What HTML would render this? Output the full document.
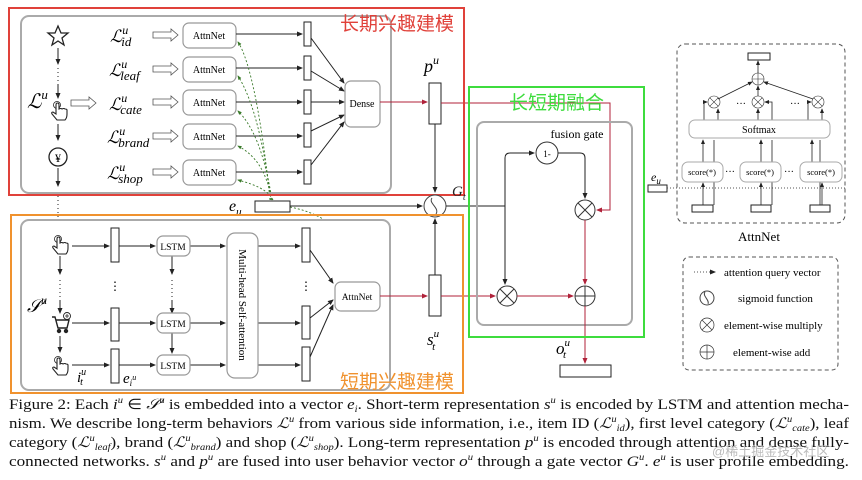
<!DOCTYPE html>
<html><head><meta charset="utf-8"><style>
html,body{margin:0;padding:0;background:#fff;width:862px;height:480px;overflow:hidden}
svg{display:block}
text{font-family:"Liberation Serif",serif}
.cn{font-family:"Liberation Sans","Noto Sans CJK SC",sans-serif}
.it{font-style:italic}
</style></head><body>
<svg width="862" height="480" viewBox="0 0 862 480" xmlns="http://www.w3.org/2000/svg">
<defs>
<marker id="a" markerWidth="6" markerHeight="6" refX="5" refY="3" orient="auto"><path d="M0,0.5 L6,3 L0,5.5z" fill="#222"/></marker>
<marker id="r" markerWidth="6" markerHeight="6" refX="5" refY="3" orient="auto"><path d="M0,0.5 L6,3 L0,5.5z" fill="#b0223a"/></marker>
<marker id="g" markerWidth="5" markerHeight="5" refX="4" refY="2.5" orient="auto"><path d="M0,0.5 L5,2.5 L0,4.5z" fill="#3a7a2a"/></marker>
<g id="mul"><circle r="10" fill="#fff" stroke="#333"/><path d="M-7,-7L7,7M7,-7L-7,7" stroke="#333"/></g>
<g id="add"><circle r="10" fill="#fff" stroke="#333"/><path d="M-10,0H10M0,-10V10" stroke="#333"/></g>
<g id="hol"><path d="M0,-3H18V-6L25,0L18,6V3H0Z" fill="#fff" stroke="#555" stroke-width="0.8"/></g>
<g id="hand" fill="#fff" stroke="#222" stroke-width="1.1"><circle cx="-2" cy="-6" r="3.5" fill="none" stroke-width="0.8"/><path d="M-3,-6V3L-6,1Q-8,1 -7,3L-2,9H6Q8,7 8,3V-1Q8,-2 6,-2Q5,-3 3,-2Q2,-3 0,-2V-6Q0,-8 -1.5,-8Q-3,-8 -3,-6Z"/></g>
<g id="cart" fill="none" stroke="#222" stroke-width="1.4"><path d="M-9,-6H-6L-3,5H6L8,-3H-5"/><circle cx="-2" cy="8" r="1.5" fill="#222"/><circle cx="5" cy="8" r="1.5" fill="#222"/><circle cx="6" cy="-7" r="3.5" stroke-width="0.9"/><path d="M4,-7H8M6,-9V-5" stroke-width="0.8"/></g>
</defs>

<rect x="21" y="16" width="370" height="177" rx="8" fill="#fff" stroke="#aaa" stroke-width="2"/>
<path d="M58,26 L61,33 L68,33 L62,38 L64,45 L58,41 L52,45 L54,38 L48,33 L55,33Z" fill="#fff" stroke="#222" stroke-width="1.3"/>
<path d="M58,48V64" stroke="#222" marker-end="url(#a)"/>
<path d="M58,68V84" stroke="#222" stroke-dasharray="1,3"/>
<path d="M58,84V98" stroke="#222" marker-end="url(#a)"/>
<use href="#hand" x="59" y="111"/>
<path d="M58,124V140" stroke="#222" marker-end="url(#a)"/>
<circle cx="58" cy="157" r="9" fill="#fff" stroke="#222" stroke-width="1.3"/><text x="58" y="162" font-size="12" text-anchor="middle">¥</text>
<path d="M58,168V186" stroke="#222" marker-end="url(#a)"/>
<text x="27" y="108" font-size="20" class="it">ℒ<tspan font-size="13" dy="-9">u</tspan></text>
<use href="#hol" x="71" y="103"/>
<g font-size="17" class="it">
<text x="110" y="42">ℒ<tspan font-size="12" dy="-8">u</tspan><tspan font-size="13" dy="12" dx="-7">id</tspan></text>
<text x="109" y="76">ℒ<tspan font-size="12" dy="-8">u</tspan><tspan font-size="13" dy="12" dx="-7">leaf</tspan></text>
<text x="109" y="110">ℒ<tspan font-size="12" dy="-8">u</tspan><tspan font-size="13" dy="12" dx="-7">cate</tspan></text>
<text x="107" y="143">ℒ<tspan font-size="12" dy="-8">u</tspan><tspan font-size="13" dy="12" dx="-7">brand</tspan></text>
<text x="107" y="179">ℒ<tspan font-size="12" dy="-8">u</tspan><tspan font-size="13" dy="12" dx="-7">shop</tspan></text>
</g>
<g>
<use href="#hol" x="153" y="35"/><use href="#hol" x="153" y="69"/><use href="#hol" x="153" y="102"/><use href="#hol" x="153" y="136"/><use href="#hol" x="153" y="172"/>
</g>
<g fill="#fff" stroke="#999" stroke-width="1.2">
<rect x="183" y="23" width="53" height="25" rx="6"/><rect x="183" y="57" width="53" height="25" rx="6"/><rect x="183" y="90" width="53" height="25" rx="6"/><rect x="183" y="124" width="53" height="25" rx="6"/><rect x="183" y="160" width="53" height="25" rx="6"/>
</g>
<g font-size="10" text-anchor="middle"><text x="209" y="39">AttnNet</text><text x="209" y="73">AttnNet</text><text x="209" y="106">AttnNet</text><text x="209" y="140">AttnNet</text><text x="209" y="176">AttnNet</text></g>
<g stroke="#222" fill="none">
<path d="M236,34H302" marker-end="url(#a)"/><path d="M236,68H302" marker-end="url(#a)"/><path d="M236,102H302" marker-end="url(#a)"/><path d="M236,136H302" marker-end="url(#a)"/><path d="M236,172H302" marker-end="url(#a)"/>
</g>
<g fill="#fff" stroke="#222"><rect x="304" y="22" width="7" height="24"/><rect x="304" y="56" width="7" height="24"/><rect x="304" y="90" width="7" height="24"/><rect x="304" y="123" width="7" height="24"/><rect x="304" y="160" width="7" height="24"/></g>
<g stroke="#222" fill="none">
<path d="M311,38L344,83" marker-end="url(#a)"/><path d="M311,71L344,91" marker-end="url(#a)"/><path d="M311,102H344" marker-end="url(#a)"/><path d="M311,131L344,115" marker-end="url(#a)"/><path d="M311,165L344,122" marker-end="url(#a)"/>
</g>
<rect x="345" y="81" width="35" height="46" rx="6" fill="#fff" stroke="#999" stroke-width="1.2"/>
<text x="362" y="107" font-size="10" text-anchor="middle">Dense</text>
<g stroke="#3a7a2a" fill="none" stroke-dasharray="2,2" stroke-width="0.9">
<path d="M270,200 C262,120 250,60 238,42" marker-end="url(#g)"/>
<path d="M271,200 C262,130 250,95 238,76" marker-end="url(#g)"/>
<path d="M272,200 C264,150 252,125 238,111" marker-end="url(#g)"/>
<path d="M272,200 C266,170 255,155 238,146" marker-end="url(#g)"/>
<path d="M273,200 C268,190 256,185 238,180" marker-end="url(#g)"/>
<path d="M290,207 C330,215 350,235 358,280" marker-end="url(#g)"/>
</g>
<path d="M380,102H427" stroke="#b0223a" marker-end="url(#r)"/>
<rect x="429" y="83" width="12" height="41" fill="#fff" stroke="#222"/>
<text x="424" y="72" font-size="18" class="it">p<tspan font-size="12" dy="-8">u</tspan></text>
<path d="M435,124V192" stroke="#222" marker-end="url(#a)"/>
<path d="M441,103H610V208" stroke="#b0223a" fill="none"/>
<path d="M610,208V210H597" stroke="#b0223a" fill="none" marker-end="url(#r)"/>

<rect x="9" y="8" width="455" height="187" fill="none" stroke="#e0413a" stroke-width="2"/>
<text x="340" y="30" font-size="19" fill="#e0413a" class="cn">长期兴趣建模</text>

<text x="229" y="211" font-size="16" class="it">e<tspan font-size="11" dy="4">u</tspan></text>
<rect x="255" y="201" width="35" height="11" fill="#fff" stroke="#222"/>
<path d="M290,206H422" stroke="#222" marker-end="url(#a)"/>
<circle cx="435" cy="206" r="11" fill="#fff" stroke="#444"/>
<path d="M432,198 C428,203 440,208 436,214" stroke="#444" fill="none"/>
<text x="452" y="196" font-size="15" class="it" fill="#222">G<tspan font-size="10" dy="4">t</tspan></text>
<path d="M446,206H505" stroke="#222"/>

<rect x="21" y="220" width="369" height="170" rx="8" fill="#fff" stroke="#aaa" stroke-width="2"/>
<path d="M58,196V218" stroke="#222" stroke-dasharray="1,3"/>
<use href="#hand" x="60" y="245"/><use href="#cart" x="61" y="323"/><use href="#hand" x="60" y="366"/>
<path d="M60,256V274" stroke="#222" marker-end="url(#a)"/><path d="M60,280V300" stroke="#222" stroke-dasharray="1,3"/><path d="M60,300V313" stroke="#222" marker-end="url(#a)"/><path d="M60,336V352" stroke="#222" marker-end="url(#a)"/>
<text x="27" y="312" font-size="18" class="it">𝒮<tspan font-size="12" dy="-8">u</tspan></text>
<text x="77" y="382" font-size="15" class="it">i<tspan font-size="10" dy="-7">u</tspan><tspan font-size="10" dy="10" dx="-6">t</tspan></text>
<text x="123" y="383" font-size="15" class="it">e<tspan font-size="9" dy="3">i</tspan><tspan font-size="8" dy="-6">u</tspan></text>
<g stroke="#222" fill="none">
<path d="M72,246H109" marker-end="url(#a)"/><path d="M72,323H109" marker-end="url(#a)"/><path d="M72,365H109" marker-end="url(#a)"/>
<path d="M119,246H155" marker-end="url(#a)"/><path d="M119,323H155" marker-end="url(#a)"/><path d="M119,365H155" marker-end="url(#a)"/>
<path d="M190,246H225" marker-end="url(#a)"/><path d="M190,323H225" marker-end="url(#a)"/><path d="M190,365H225" marker-end="url(#a)"/>
<path d="M258,246H300" marker-end="url(#a)"/><path d="M258,323H300" marker-end="url(#a)"/><path d="M258,365H300" marker-end="url(#a)"/>
<path d="M172,256V274" marker-end="url(#a)"/><path d="M172,280V300" stroke-dasharray="1,3"/><path d="M172,300V313" marker-end="url(#a)"/><path d="M172,333V353" marker-end="url(#a)"/>
<path d="M310,250L333,283" marker-end="url(#a)"/><path d="M310,318L333,300" marker-end="url(#a)"/><path d="M310,357L333,305" marker-end="url(#a)"/>
</g>
<g font-size="12" text-anchor="middle"><text x="115" y="290">⋮</text><text x="306" y="290">⋮</text></g>
<g fill="#fff" stroke="#222"><rect x="111" y="228" width="8" height="34"/><rect x="111" y="308" width="8" height="33"/><rect x="111" y="349" width="8" height="34"/>
<rect x="302" y="228" width="8" height="34"/><rect x="302" y="306" width="8" height="33"/><rect x="302" y="347" width="8" height="34"/></g>
<g fill="#fff" stroke="#999" stroke-width="1.2"><rect x="157" y="236" width="33" height="20" rx="6"/><rect x="157" y="313" width="33" height="20" rx="6"/><rect x="157" y="355" width="33" height="20" rx="6"/>
<rect x="227" y="233" width="31" height="145" rx="8"/><rect x="335" y="282" width="45" height="29" rx="6"/></g>
<g font-size="9.5" text-anchor="middle"><text x="173" y="250">LSTM</text><text x="173" y="327">LSTM</text><text x="173" y="369">LSTM</text><text x="357" y="300">AttnNet</text></g>
<text x="0" y="0" font-size="11" text-anchor="middle" transform="translate(239,305) rotate(90)">Multi-head Self-attention</text>
<path d="M380,296H427" stroke="#b0223a" marker-end="url(#r)"/>
<rect x="429" y="275" width="12" height="41" fill="#fff" stroke="#222"/>
<path d="M435,275V219" stroke="#222" marker-end="url(#a)"/>
<text x="427" y="345" font-size="17" class="it">s<tspan font-size="11" dy="-8">u</tspan><tspan font-size="11" dy="13" dx="-7">t</tspan></text>
<path d="M441,296H495" stroke="#b0223a" marker-end="url(#r)"/>

<rect x="11" y="215" width="452" height="178" fill="none" stroke="#f0922e" stroke-width="2"/>
<text x="340" y="388" font-size="19" fill="#f0922e" class="cn">短期兴趣建模</text>

<rect x="477" y="122" width="155" height="203" rx="7" fill="none" stroke="#aaa" stroke-width="2"/>
<text x="577" y="138" font-size="12" text-anchor="middle">fusion gate</text>
<circle cx="547" cy="153" r="11" fill="#fff" stroke="#333"/><text x="547" y="157" font-size="9" text-anchor="middle">1-</text>
<path d="M505,206V158Q505,153 510,153H534" stroke="#222" fill="none" marker-end="url(#a)"/>
<path d="M505,206V284" stroke="#222" fill="none" marker-end="url(#a)"/>
<path d="M558,153H580Q585,153 585,158V198" stroke="#222" fill="none" marker-end="url(#a)"/>
<use href="#mul" x="585" y="210"/><use href="#mul" x="507" y="296"/><use href="#add" x="585" y="296"/>
<path d="M585,220V284" stroke="#b0223a" marker-end="url(#r)"/>
<path d="M517,296H573" stroke="#b0223a" marker-end="url(#r)"/>
<path d="M585,306V363" stroke="#b0223a" marker-end="url(#r)"/>
<text x="556" y="354" font-size="17" class="it">o<tspan font-size="11" dy="-8">u</tspan><tspan font-size="11" dy="12" dx="-7">t</tspan></text>
<rect x="560" y="365" width="51" height="12" fill="#fff" stroke="#222"/>
<rect x="469" y="87" width="175" height="250" fill="none" stroke="#3ddc3d" stroke-width="2"/>
<text x="509" y="109" font-size="19" fill="#3ddc3d" class="cn">长短期融合</text>

<rect x="677" y="44" width="168" height="179" rx="8" fill="none" stroke="#555" stroke-dasharray="4,3"/>
<text x="651" y="181" font-size="12" class="it">e<tspan font-size="9" dy="3">u</tspan></text>
<rect x="648" y="185" width="19" height="7" fill="#fff" stroke="#222"/>
<path d="M667,188H845" stroke="#555" stroke-dasharray="1,2"/>
<rect x="748" y="53" width="22" height="7" fill="#fff" stroke="#222"/>
<g transform="translate(758,79) scale(0.6)"><use href="#add"/></g>
<g transform="translate(714,102) scale(0.6)"><use href="#mul"/></g>
<g transform="translate(758,102) scale(0.6)"><use href="#mul"/></g>
<g transform="translate(818,102) scale(0.6)"><use href="#mul"/></g>
<g stroke="#222" fill="none" stroke-width="0.8">
<path d="M758,73V61" marker-end="url(#a)"/><path d="M718,99L752,82" marker-end="url(#a)"/><path d="M758,96V86" marker-end="url(#a)"/><path d="M813,99L764,82" marker-end="url(#a)"/>
<path d="M704,120V102H707" marker-end="url(#a)"/><path d="M718,120V109" marker-end="url(#a)"/>
<path d="M758,120V109" marker-end="url(#a)"/><path d="M772,120V102H765" marker-end="url(#a)"/>
<path d="M808,120V102H811" marker-end="url(#a)"/><path d="M822,120V109" marker-end="url(#a)"/>
<path d="M703,162V140" marker-end="url(#a)"/><path d="M714,205V140"/>
<path d="M761,162V140" marker-end="url(#a)"/><path d="M772,205V140"/>
<path d="M812,162V140" marker-end="url(#a)"/><path d="M820,205V140"/>
<path d="M703,205V183" marker-end="url(#a)"/><path d="M761,205V183" marker-end="url(#a)"/><path d="M822,205V183" marker-end="url(#a)"/>
</g>
<rect x="689" y="120" width="141" height="18" rx="6" fill="#fff" stroke="#aaa"/>
<text x="759" y="133" font-size="10" text-anchor="middle" font-family="Liberation Sans">Softmax</text>
<g fill="#fff" stroke="#aaa"><rect x="682" y="162" width="41" height="20" rx="6"/><rect x="740" y="162" width="41" height="20" rx="6"/><rect x="800" y="162" width="42" height="20" rx="6"/></g>
<g font-size="8.5" text-anchor="middle"><text x="702" y="175" font-family="Liberation Sans">score(*)</text><text x="760" y="175" font-family="Liberation Sans">score(*)</text><text x="821" y="175" font-family="Liberation Sans">score(*)</text></g>
<g font-size="10"><text x="725" y="175">···</text><text x="784" y="175">···</text><text x="736" y="107">···</text><text x="790" y="107">···</text></g>
<g fill="#fff" stroke="#222"><rect x="692" y="205" width="21" height="7"/><rect x="751" y="205" width="20" height="7"/><rect x="810" y="205" width="20" height="7"/></g>
<text x="759" y="241" font-size="13" text-anchor="middle">AttnNet</text>

<rect x="683" y="257" width="155" height="113" rx="6" fill="none" stroke="#555" stroke-dasharray="4,3"/>
<path d="M694,272H715" stroke="#555" stroke-dasharray="1,2" marker-end="url(#a)"/>
<text x="724" y="276" font-size="11">attention query vector</text>
<circle cx="707" cy="298" r="7" fill="#fff" stroke="#444"/><path d="M705,292 C702,296 710,300 708,304" stroke="#444" fill="none"/>
<text x="738" y="302" font-size="11">sigmoid function</text>
<g transform="translate(707,325) scale(0.7)"><use href="#mul"/></g>
<text x="724" y="329" font-size="11">element-wise multiply</text>
<g transform="translate(707,352) scale(0.7)"><use href="#add"/></g>
<text x="733" y="356" font-size="11">element-wise add</text>

<g font-size="14.5" fill="#111">
<text x="9" y="409" textLength="840" lengthAdjust="spacingAndGlyphs">Figure 2: Each <tspan class="it">i</tspan><tspan font-size="9" dy="-6" class="it">u</tspan><tspan dy="6"> ∈ </tspan><tspan class="it">𝒮<tspan font-size="9" dy="-6">u</tspan></tspan><tspan dy="6"> is embedded into a vector </tspan><tspan class="it">e</tspan><tspan font-size="9" dy="3" class="it">i</tspan><tspan dy="-3">. Short-term representation </tspan><tspan class="it">s</tspan><tspan font-size="9" dy="-6" class="it">u</tspan><tspan dy="6"> is encoded by LSTM and attention mecha-</tspan></text>
<text x="9" y="428" textLength="840" lengthAdjust="spacingAndGlyphs">nism. We describe long-term behaviors <tspan class="it">ℒ</tspan><tspan font-size="9" dy="-6" class="it">u</tspan><tspan dy="6"> from various side information, i.e., item ID (</tspan><tspan class="it">ℒ</tspan><tspan font-size="9" class="it" dy="-6">u</tspan><tspan font-size="9" class="it" dy="9">id</tspan><tspan dy="-3">), first level category (</tspan><tspan class="it">ℒ</tspan><tspan font-size="9" class="it" dy="-6">u</tspan><tspan font-size="9" class="it" dy="9">cate</tspan><tspan dy="-3">), leaf</tspan></text>
<text x="9" y="447" textLength="840" lengthAdjust="spacingAndGlyphs">category (<tspan class="it">ℒ</tspan><tspan font-size="9" class="it" dy="-6">u</tspan><tspan font-size="9" class="it" dy="9">leaf</tspan><tspan dy="-3">), brand (</tspan><tspan class="it">ℒ</tspan><tspan font-size="9" class="it" dy="-6">u</tspan><tspan font-size="9" class="it" dy="9">brand</tspan><tspan dy="-3">) and shop (</tspan><tspan class="it">ℒ</tspan><tspan font-size="9" class="it" dy="-6">u</tspan><tspan font-size="9" class="it" dy="9">shop</tspan><tspan dy="-3">). Long-term representation </tspan><tspan class="it">p</tspan><tspan font-size="9" class="it" dy="-6">u</tspan><tspan dy="6"> is encoded through attention and dense fully-</tspan></text>
<text x="9" y="466" textLength="840" lengthAdjust="spacingAndGlyphs">connected networks. <tspan class="it">s</tspan><tspan font-size="9" class="it" dy="-6">u</tspan><tspan dy="6"> and </tspan><tspan class="it">p</tspan><tspan font-size="9" class="it" dy="-6">u</tspan><tspan dy="6"> are fused into user behavior vector </tspan><tspan class="it">o</tspan><tspan font-size="9" class="it" dy="-6">u</tspan><tspan dy="6"> through a gate vector </tspan><tspan class="it">G</tspan><tspan font-size="9" class="it" dy="-6">u</tspan><tspan dy="6">. </tspan><tspan class="it">e</tspan><tspan font-size="9" class="it" dy="-6">u</tspan><tspan dy="6"> is user profile embedding.</tspan></text>
</g>
<text x="712" y="456" font-size="13" fill="#bbb" class="cn">@稀土掘金技术社区</text>
</svg>
</body></html>
